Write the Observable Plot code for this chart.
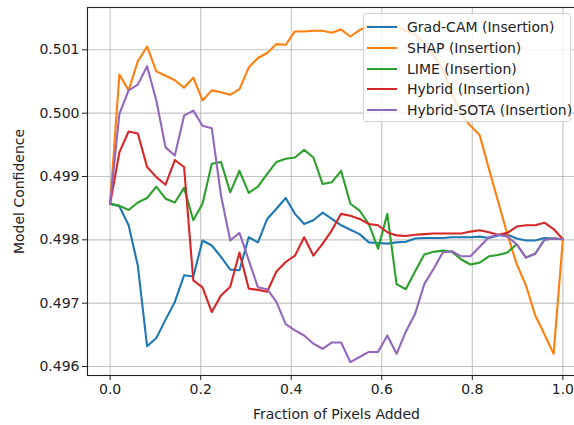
<!DOCTYPE html>
<html>
<head>
<meta charset="utf-8">
<script src="https://cdn.jsdelivr.net/npm/d3@7"></script>
<script src="https://cdn.jsdelivr.net/npm/@observablehq/plot@0.6"></script>
<style>
  html, body { margin: 0; padding: 0; background: #fff; overflow: hidden; }
  #wrap { position: relative; width: 574px; height: 425px; overflow: hidden; font-family: "DejaVu Sans", sans-serif; }
  #chart { width: 586px; }
  #chart svg { max-width: none !important; width: 586px; height: 425px; display: block; }
  #legend { position: absolute; left: 363px; top: 13px; width: 208px; height: 109px;
    background: rgba(255,255,255,0.8); border: 1px solid #d4d4d4; border-radius: 3px; box-sizing: border-box; }
  .row { position: absolute; left: 0; height: 20px; display: flex; align-items: center; font-size: 14px; color: #222; white-space: nowrap; }
  .swatch { width: 30px; height: 2px; margin-left: 3px; margin-right: 10px; }
</style>
</head>
<body>
<div id="wrap"><div id="chart"></div><div id="legend"></div></div>
<script>
// Fraction of pixels added (50 evenly spaced steps)
const xFrac = [0, 0.0204, 0.0408, 0.0612, 0.0816, 0.1020, 0.1224, 0.1429, 0.1633, 0.1837,
  0.2041, 0.2245, 0.2449, 0.2653, 0.2857, 0.3061, 0.3265, 0.3469, 0.3673, 0.3878,
  0.4082, 0.4286, 0.4490, 0.4694, 0.4898, 0.5102, 0.5306, 0.5510, 0.5714, 0.5918,
  0.6122, 0.6327, 0.6531, 0.6735, 0.6939, 0.7143, 0.7347, 0.7551, 0.7755, 0.7959,
  0.8163, 0.8367, 0.8571, 0.8776, 0.8980, 0.9184, 0.9388, 0.9592, 0.9796, 1];

const gradCam = [0.49857, 0.49853, 0.49823, 0.49759, 0.49632, 0.49645, 0.49674, 0.49702, 0.49744, 0.49742,
  0.49799, 0.49791, 0.49773, 0.49753, 0.49752, 0.49804, 0.49796, 0.49833, 0.49849, 0.49866,
  0.49841, 0.49825, 0.49831, 0.49843, 0.49833, 0.49823, 0.49816, 0.49809, 0.49796, 0.49795,
  0.49794, 0.49796, 0.49797, 0.49802, 0.49803, 0.49803, 0.49803, 0.49804, 0.49804, 0.49804,
  0.49805, 0.49803, 0.49807, 0.49808, 0.49802, 0.49799, 0.49799, 0.49803, 0.49802, 0.49801];

const shap = [0.49857, 0.50061, 0.50036, 0.50082, 0.50105, 0.50066, 0.50059, 0.50052, 0.50040, 0.50056,
  0.50020, 0.50036, 0.50033, 0.50029, 0.50038, 0.50072, 0.50087, 0.50095, 0.50109, 0.50108,
  0.50129, 0.50129, 0.50130, 0.50130, 0.50127, 0.50132, 0.50121, 0.50131, 0.50138, 0.50136,
  0.50137, 0.50137, 0.50130, 0.50124, 0.50110, 0.50091, 0.50070, 0.50030, 0.49999, 0.49980,
  0.49965, 0.49912, 0.49860, 0.49808, 0.49762, 0.49728, 0.49681, 0.49651, 0.49620, 0.49801];

const lime = [0.49857, 0.49854, 0.49847, 0.49859, 0.49866, 0.49884, 0.49865, 0.49859, 0.49882, 0.49831,
  0.49857, 0.49920, 0.49923, 0.49875, 0.49909, 0.49874, 0.49884, 0.49904, 0.49923, 0.49928,
  0.49930, 0.49942, 0.49930, 0.49888, 0.49891, 0.49909, 0.49857, 0.49846, 0.49825, 0.49786,
  0.49841, 0.49730, 0.49722, 0.49750, 0.49777, 0.49781, 0.49783, 0.49781, 0.49769, 0.49761,
  0.49764, 0.49774, 0.49776, 0.49780, 0.49793, 0.49772, 0.49778, 0.49800, 0.49802, 0.49801];

const hybrid = [0.49857, 0.49938, 0.49971, 0.49968, 0.49915, 0.49899, 0.49887, 0.49926, 0.49915, 0.49736,
  0.49725, 0.49686, 0.49712, 0.49726, 0.49780, 0.49723, 0.49721, 0.49718, 0.49750, 0.49765,
  0.49775, 0.49804, 0.49775, 0.49794, 0.49815, 0.49841, 0.49838, 0.49833, 0.49825, 0.49823,
  0.49812, 0.49807, 0.49806, 0.49808, 0.49809, 0.49810, 0.49810, 0.49810, 0.49810, 0.49813,
  0.49815, 0.49812, 0.49808, 0.49811, 0.49821, 0.49823, 0.49823, 0.49827, 0.49817, 0.49801];

const hybridSota = [0.49857, 0.49999, 0.50036, 0.50045, 0.50074, 0.50020, 0.49946, 0.49933, 0.49996, 0.50004,
  0.49980, 0.49976, 0.49870, 0.49799, 0.49811, 0.49768, 0.49725, 0.49722, 0.49702, 0.49667,
  0.49657, 0.49649, 0.49636, 0.49628, 0.49638, 0.49638, 0.49607, 0.49615, 0.49623, 0.49623,
  0.49649, 0.49620, 0.49655, 0.49683, 0.49730, 0.49754, 0.49780, 0.49782, 0.49774, 0.49774,
  0.49789, 0.49804, 0.49808, 0.49805, 0.49793, 0.49772, 0.49778, 0.49800, 0.49802, 0.49801];

const seriesNames = ["Grad-CAM (Insertion)", "SHAP (Insertion)", "LIME (Insertion)", "Hybrid (Insertion)", "Hybrid-SOTA (Insertion)"];
const seriesColors = ["#1f77b4", "#ff7f0e", "#2ca02c", "#d62728", "#9467bd"];
const seriesValues = [gradCam, shap, lime, hybrid, hybridSota];

const xTicks = [0, 0.2, 0.4, 0.6, 0.8, 1.0];
const yTicks = [0.496, 0.497, 0.498, 0.499, 0.500, 0.501];

const lineMarks = seriesValues.map((vals, s) =>
  Plot.line(xFrac.map((x, i) => ({x, y: vals[i]})), {
    x: "x", y: "y", stroke: seriesColors[s], strokeWidth: 2.1, strokeLinejoin: "round"
  })
);

const chart = Plot.plot({
  width: 586,
  height: 425,
  marginLeft: 87,
  marginRight: 1,
  marginTop: 7,
  marginBottom: 50,
  style: { fontFamily: "DejaVu Sans, sans-serif", fontSize: "14px", background: "white", color: "#222" },
  x: { domain: [-0.05, 1.05] },
  y: { domain: [0.495858, 0.501668] },
  marks: [
    Plot.gridX(xTicks, { stroke: "#b0b0b0", strokeOpacity: 0.75, strokeWidth: 1.1 }),
    Plot.gridY(yTicks, { stroke: "#b0b0b0", strokeOpacity: 0.75, strokeWidth: 1.1 }),
    ...lineMarks,
    Plot.frame({ stroke: "#222", strokeWidth: 1.1 }),
    Plot.axisX(xTicks, { tickFormat: d3.format(".1f"), tickSize: 5, tickPadding: 4, fontSize: 14,
      label: "Fraction of Pixels Added", labelAnchor: "center", labelOffset: 43, labelArrow: "none" }),
    Plot.axisY(yTicks, { tickFormat: d3.format(".3f"), tickSize: 5, tickPadding: 3, fontSize: 14,
      label: "Model Confidence", labelAnchor: "center", labelOffset: 73, labelArrow: "none" })
  ]
});
document.getElementById("chart").appendChild(chart);

const legend = document.getElementById("legend");
seriesNames.forEach((name, s) => {
  const row = document.createElement("div");
  row.className = "row";
  row.style.top = (3 + s * 20.8) + "px";
  const sw = document.createElement("div");
  sw.className = "swatch";
  sw.style.background = seriesColors[s];
  const tx = document.createElement("span");
  tx.textContent = name;
  row.appendChild(sw);
  row.appendChild(tx);
  legend.appendChild(row);
});
</script>
</body>
</html>
